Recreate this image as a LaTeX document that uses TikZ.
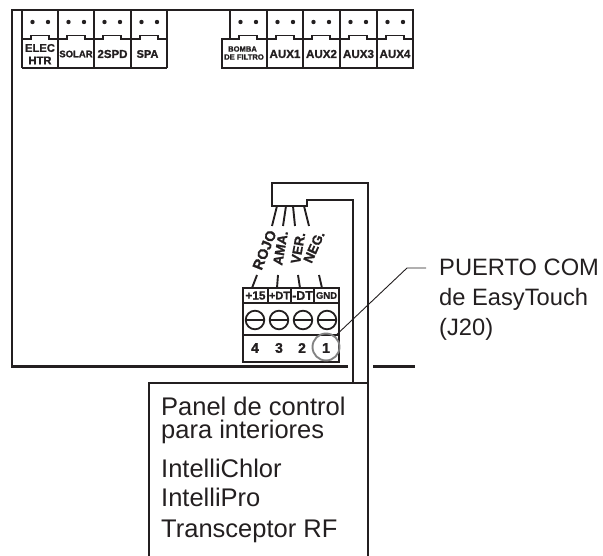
\documentclass[tikz,border=0pt]{standalone}
\usepackage{fontspec}
\setmainfont[BoldFeatures={FakeBold=1.2}]{Liberation Sans}
\definecolor{PrintBlack}{RGB}{35,31,32}
\definecolor{RingGrey}{RGB}{130,130,130}
\newcommand{\fsz}[1]{\fontsize{#1}{#1}\selectfont}
\tikzset{
  frameline/.style={draw=PrintBlack, line width=2.3pt},
  cellline/.style={draw=PrintBlack, line width=1.5pt},
  wireline/.style={draw=PrintBlack, line width=1.9pt},
  lbl/.style={inner sep=0pt, text=PrintBlack, font=\bfseries},
  bigtxt/.style={inner sep=0pt, anchor=base west, text=PrintBlack},
}
\begin{document}
\begin{tikzpicture}[x=1pt, y=-1pt]
\useasboundingbox (0,0) rectangle (603,556);
\pgfmathsetmacro{\yc}{39} % top of label row
\pgfmathsetmacro{\yb}{68} % bottom of label row
\pgfmathsetmacro{\yl}{54} % middle of label row

\draw[frameline] (348,366.5) -- (12,366.5) -- (12,10) -- (414,10); %board left and top
\draw[frameline] (373,366.5) -- (415,366.5); %board bottom, right part

% connector cells, left edge of each
\foreach \xa/\xb in {22/58, 58/94, 94/131, 131/167, 230/267, 267/303, 303/340, 340/377, 377/413}{
  \draw[cellline] (\xa,10) -- (\xa,\yb);
  \draw[cellline] (\xb,10) -- (\xb,\yb);
  \draw[cellline] (\xa,\yc) -- (\xa+9,\yc) -- (\xa+9,35.5) -- (\xa+27,35.5) -- (\xa+27,\yc) -- (\xb,\yc);
  \fill[PrintBlack] (\xa+10.5,22) circle (2.2);
  \fill[PrintBlack] (\xa+26,22) circle (2.2);
}
\draw[cellline] (22,\yb) -- (167,\yb); %left label row bottom
\fill[white] (222,39.8) rectangle (266.2,67.2); %wide label cell
\draw[cellline] (230,\yc) -- (222,\yc) -- (222,\yb) -- (414,\yb); %right label row

\node[lbl, font=\bfseries\fsz{11.2}] (elec) at (40,48) {ELEC};
\node[lbl, font=\bfseries\fsz{11.2}] (htr) at (40,60.5) {HTR};
\node[lbl, font=\bfseries\fsz{9.5}] (solar) at (76,54) {SOLAR};
\node[lbl, font=\bfseries\fsz{11.5}] (spd) at (112.5,\yl) {2SPD};
\node[lbl, font=\bfseries\fsz{11}] (spa) at (147.5,\yl) {SPA};
\node[lbl, font=\bfseries\fsz{7.6}] (bomba) at (242.5,49) {BOMBA};
\node[lbl, font=\bfseries\fsz{7.6}] (filtro) at (244,57) {DE FILTRO};
\node[lbl, font=\bfseries\fsz{11.6}] (aux1) at (285,\yl) {AUX1};
\node[lbl, font=\bfseries\fsz{11.6}] (aux2) at (321.5,\yl) {AUX2};
\node[lbl, font=\bfseries\fsz{11.6}] (aux3) at (358.5,\yl) {AUX3};
\node[lbl, font=\bfseries\fsz{11.6}] (aux4) at (395,\yl) {AUX4};

% cable and plug
\draw[frameline] (353,383) -- (353,200) -- (307,200) -- (307,206) -- (272,206) -- (272,183) -- (368,183) -- (368,556);

% wires
\draw[wireline] (277,206) -- (272,226);
\draw[wireline] (286,206) -- (283,226);
\draw[wireline] (293,206) -- (295,226);
\draw[wireline] (304,206) -- (309,226);
\draw[wireline] (257,275) -- (252,288);
\draw[wireline] (278,275) -- (277,288);
\draw[wireline] (298,275) -- (300,288);
\draw[wireline] (319,275) -- (322,288);
\node[lbl, font=\bfseries\fsz{14.5}, rotate=68] (rojo) at (264.5,250) {ROJO};
\node[lbl, font=\bfseries\fsz{13.5}, rotate=80] (ama) at (280.5,248) {AMA.};
\node[lbl, font=\bfseries\fsz{13.5}, rotate=80] (ver) at (298,248) {VER.};
\node[lbl, font=\bfseries\fsz{13.5}, rotate=66] (neg) at (314,247) {NEG.};

% terminal block
\draw[cellline] (243,288) rectangle (339,362); %block outline
\draw[cellline] (243,303) -- (339,303);
\draw[cellline] (243,335) -- (339,335);
\foreach \xd in {268,291,314}{
  \draw[cellline] (\xd,288) -- (\xd,303);
}
\foreach \xs in {255,279,303,327}{
  \draw[cellline, line width=1.8pt] (\xs,320) circle (9.3);
  \draw[cellline] (\xs-9.3,320) -- (\xs+9.3,320);
}
\node[lbl, font=\bfseries\fsz{11.8}] (p15) at (255.5,295.5) {+15};
\node[lbl, font=\bfseries\fsz{11}] (pdt) at (279.5,295.5) {+DT};
\node[lbl, font=\bfseries\fsz{12.4}] (mdt) at (302.5,295.5) {-DT};
\node[lbl, font=\bfseries\fsz{9.5}] (gnd) at (326.5,295.5) {GND};
\node[lbl, font=\bfseries\fsz{14}] (n4) at (255,348) {4};
\node[lbl, font=\bfseries\fsz{14}] (n3) at (279,348) {3};
\node[lbl, font=\bfseries\fsz{14}] (n2) at (302,348) {2};
\node[lbl, font=\bfseries\fsz{14}] (n1) at (326,348) {1};
\node[circle, draw=RingGrey, line width=1.9pt, minimum size=27pt, inner sep=0pt] (ring) at (326,347) {};

% leader to port text
\coordinate (ldrknee) at (407,268);
\coordinate (ldrend) at (426,268);
\draw[PrintBlack, line width=0.9pt] (ring.50) -- (ldrknee) -- (ldrend);
\node[bigtxt, font=\fsz{23.7}] (puerto) at (439,276) {PUERTO COM};
\node[bigtxt, font=\fsz{23.7}] (easy) at (439,306) {de EasyTouch};
\node[bigtxt, font=\fsz{23.7}] (jveinte) at (439,336) {(J20)};

% panel box
\draw[frameline] (149,556) -- (149,383) -- (368,383);
\node[bigtxt, font=\fsz{25.5}] (panel) at (161,415) {Panel de control};
\node[bigtxt, font=\fsz{25.5}] (para) at (161,438) {para interiores};
\node[bigtxt, font=\fsz{25.5}] (chlor) at (161,477) {IntelliChlor};
\node[bigtxt, font=\fsz{25.5}] (pro) at (161,506) {IntelliPro};
\node[bigtxt, font=\fsz{25.5}] (rf) at (161,537) {Transceptor RF};
\end{tikzpicture}
\end{document}
